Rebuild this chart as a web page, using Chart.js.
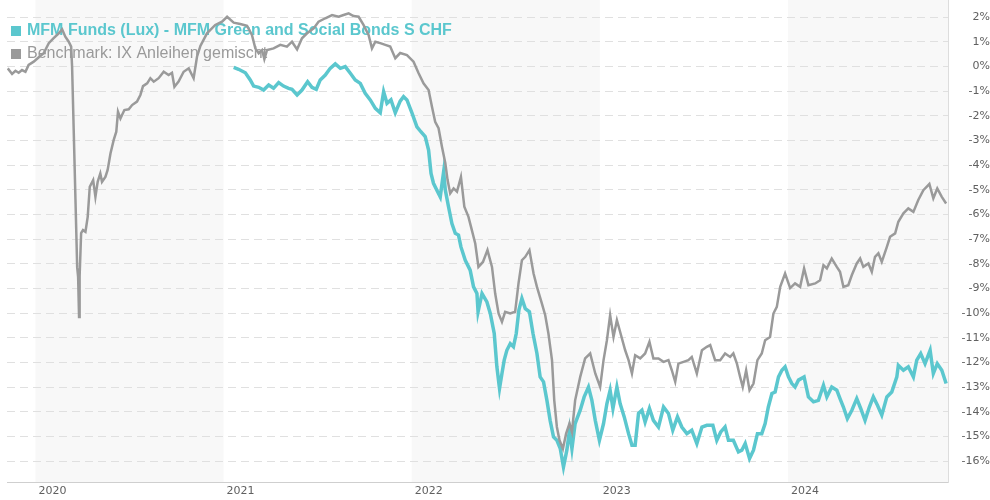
<!DOCTYPE html>
<html>
<head>
<meta charset="utf-8">
<title>MFM Green and Social Bonds S CHF</title>
<script src="https://cdn.jsdelivr.net/npm/chart.js@4/dist/chart.umd.min.js"></script>
<style>
    html, body { margin: 0; padding: 0; background: #fff; }
    #wrap { width: 990px; height: 500px; position: relative; }
</style>
</head>
<body>
<div id="wrap"><canvas id="perfChart"></canvas></div>
<script>
// Series names
const FUND_NAME = 'MFM Funds (Lux) - MFM Green and Social Bonds S CHF';
const BENCH_NAME = 'Benchmark: IX Anleihen gemischt';

// Benchmark: time in decimal years, performance in %
const benchYears = [
    2019.853, 2019.876, 2019.894, 2019.911, 2019.929, 2019.947, 2019.964, 2019.991, 2020.018, 2020.044,
    2020.071, 2020.097, 2020.124, 2020.142, 2020.159, 2020.177, 2020.190, 2020.195, 2020.204, 2020.213,
    2020.222, 2020.227, 2020.232, 2020.235, 2020.243, 2020.253, 2020.266, 2020.278, 2020.289, 2020.307,
    2020.319, 2020.331, 2020.345, 2020.354, 2020.372, 2020.384, 2020.399, 2020.416, 2020.430, 2020.439,
    2020.452, 2020.473, 2020.496, 2020.514, 2020.540, 2020.558, 2020.572, 2020.594, 2020.611, 2020.629,
    2020.655, 2020.682, 2020.708, 2020.726, 2020.739, 2020.761, 2020.788, 2020.815, 2020.841, 2020.859,
    2020.877, 2020.912, 2020.956, 2020.992, 2021.019, 2021.054, 2021.089, 2021.125, 2021.151, 2021.169,
    2021.187, 2021.205, 2021.217, 2021.231, 2021.266, 2021.302, 2021.337, 2021.364, 2021.391, 2021.417,
    2021.444, 2021.479, 2021.505, 2021.541, 2021.577, 2021.612, 2021.638, 2021.665, 2021.691, 2021.718,
    2021.744, 2021.771, 2021.789, 2021.807, 2021.833, 2021.860, 2021.886, 2021.913, 2021.939, 2021.975,
    2022.010, 2022.037, 2022.063, 2022.090, 2022.108, 2022.125, 2022.143, 2022.161, 2022.179, 2022.191,
    2022.205, 2022.223, 2022.241, 2022.262, 2022.280, 2022.302, 2022.320, 2022.338, 2022.355, 2022.379,
    2022.403, 2022.427, 2022.444, 2022.462, 2022.480, 2022.497, 2022.524, 2022.550, 2022.568, 2022.586,
    2022.604, 2022.626, 2022.648, 2022.666, 2022.692, 2022.710, 2022.727, 2022.746, 2022.758, 2022.772,
    2022.786, 2022.804, 2022.821, 2022.839, 2022.852, 2022.869, 2022.896, 2022.922, 2022.949, 2022.976,
    2023.002, 2023.020, 2023.038, 2023.055, 2023.073, 2023.091, 2023.108, 2023.135, 2023.153, 2023.171,
    2023.188, 2023.215, 2023.241, 2023.264, 2023.285, 2023.312, 2023.339, 2023.365, 2023.383, 2023.401,
    2023.418, 2023.445, 2023.471, 2023.489, 2023.516, 2023.543, 2023.569, 2023.587, 2023.613, 2023.640,
    2023.666, 2023.693, 2023.710, 2023.729, 2023.746, 2023.760, 2023.778, 2023.796, 2023.817, 2023.838,
    2023.861, 2023.879, 2023.905, 2023.923, 2023.941, 2023.959, 2023.985, 2024.012, 2024.038, 2024.065,
    2024.086, 2024.109, 2024.145, 2024.171, 2024.189, 2024.207, 2024.233, 2024.260, 2024.277, 2024.295,
    2024.321, 2024.340, 2024.366, 2024.384, 2024.401, 2024.428, 2024.446, 2024.463, 2024.481, 2024.499,
    2024.526, 2024.543, 2024.570, 2024.587, 2024.614, 2024.640, 2024.667, 2024.693, 2024.720, 2024.752,
    2024.773, 2024.794, 2024.818, 2024.841
];
const benchValues = [
    -0.07, -0.30, -0.17, -0.25, -0.14, -0.21, 0.07, 0.20, 0.38, 0.54,
    0.95, 1.15, 1.35, 1.51, 1.21, 1.01, 0.81, 0.00, -2.69, -5.41,
    -8.13, -8.52, -10.15, -8.52, -6.75, -6.63, -6.70, -6.09, -4.87, -4.60,
    -5.28, -4.67, -4.33, -4.67, -4.47, -4.19, -3.52, -2.98, -2.64, -1.83,
    -2.10, -1.76, -1.73, -1.56, -1.42, -1.15, -0.79, -0.68, -0.47, -0.61,
    -0.47, -0.21, -0.34, -0.25, -0.82, -0.61, -0.21, -0.07, -0.47, 0.40,
    0.84, 1.35, 1.69, 1.82, 2.02, 1.78, 1.73, 1.65, 1.28, 0.74,
    0.54, 0.67, 0.30, 0.67, 0.74, 0.88, 0.81, 1.01, 0.70, 1.15,
    1.35, 1.55, 1.82, 1.96, 2.09, 2.02, 2.09, 2.16, 2.05, 2.02,
    1.69, 1.28, 0.74, 1.01, 0.95, 0.88, 0.81, 0.34, 0.55, 0.47,
    0.20, -0.27, -0.68, -0.95, -1.63, -2.24, -2.50, -3.25, -3.92, -4.60,
    -5.14, -4.94, -5.07, -4.47, -5.68, -6.09, -6.63, -7.17, -8.12, -7.92,
    -7.44, -8.12, -9.20, -10.01, -10.35, -9.94, -10.01, -9.94, -8.79, -7.85,
    -7.71, -7.44, -8.39, -8.93, -9.60, -10.08, -10.82, -11.90, -13.53, -14.61,
    -15.15, -15.49, -14.88, -14.47, -14.81, -13.53, -12.58, -11.83, -11.63, -12.44,
    -12.99, -11.90, -11.09, -10.08, -10.96, -10.28, -10.75, -11.50, -11.90, -12.44,
    -11.70, -11.83, -11.63, -11.16, -11.83, -11.83, -11.97, -11.90, -12.31, -12.78,
    -12.04, -11.97, -11.90, -11.77, -12.44, -11.50, -11.36, -11.29, -11.90, -11.90,
    -11.63, -11.77, -11.63, -12.04, -12.58, -12.99, -12.31, -13.12, -12.85, -11.90,
    -11.63, -11.09, -10.96, -10.01, -9.74, -8.93, -8.39, -8.98, -8.79, -8.93,
    -8.18, -8.86, -8.79, -8.66, -8.05, -8.18, -7.78, -8.12, -8.32, -8.93,
    -8.86, -8.45, -7.98, -7.78, -8.12, -7.98, -8.32, -7.71, -7.57, -7.92,
    -7.31, -6.90, -6.76, -6.29, -5.95, -5.75, -5.89, -5.41, -5.01, -4.76,
    -5.34, -4.94, -5.28, -5.55
];

// Fund: time in decimal years, performance in %
const fundYears = [
    2021.054, 2021.080, 2021.116, 2021.142, 2021.160, 2021.187, 2021.213, 2021.240, 2021.266, 2021.293,
    2021.319, 2021.346, 2021.364, 2021.391, 2021.417, 2021.447, 2021.470, 2021.493, 2021.514, 2021.541,
    2021.567, 2021.594, 2021.621, 2021.647, 2021.674, 2021.700, 2021.727, 2021.753, 2021.780, 2021.807,
    2021.833, 2021.851, 2021.869, 2021.890, 2021.913, 2021.939, 2021.957, 2021.975, 2022.002, 2022.028,
    2022.049, 2022.072, 2022.090, 2022.103, 2022.116, 2022.138, 2022.152, 2022.170, 2022.179, 2022.196,
    2022.214, 2022.232, 2022.249, 2022.262, 2022.285, 2022.311, 2022.329, 2022.347, 2022.353, 2022.374,
    2022.400, 2022.418, 2022.439, 2022.453, 2022.467, 2022.480, 2022.492, 2022.506, 2022.524, 2022.541,
    2022.556, 2022.570, 2022.586, 2022.604, 2022.626, 2022.645, 2022.666, 2022.683, 2022.701, 2022.719,
    2022.736, 2022.754, 2022.772, 2022.790, 2022.807, 2022.825, 2022.839, 2022.852, 2022.869, 2022.896,
    2022.917, 2022.940, 2022.958, 2022.976, 2022.998, 2023.020, 2023.038, 2023.055, 2023.070, 2023.091,
    2023.108, 2023.130, 2023.153, 2023.171, 2023.188, 2023.206, 2023.224, 2023.241, 2023.264, 2023.285,
    2023.312, 2023.339, 2023.365, 2023.388, 2023.413, 2023.436, 2023.463, 2023.489, 2023.516, 2023.543,
    2023.569, 2023.601, 2023.622, 2023.643, 2023.666, 2023.684, 2023.710, 2023.737, 2023.755, 2023.773,
    2023.796, 2023.817, 2023.838, 2023.861, 2023.879, 2023.896, 2023.915, 2023.932, 2023.950, 2023.968,
    2023.985, 2024.003, 2024.021, 2024.038, 2024.056, 2024.086, 2024.109, 2024.136, 2024.162, 2024.189,
    2024.207, 2024.233, 2024.260, 2024.277, 2024.295, 2024.316, 2024.340, 2024.366, 2024.387, 2024.410,
    2024.433, 2024.454, 2024.476, 2024.499, 2024.526, 2024.552, 2024.579, 2024.587, 2024.614, 2024.640,
    2024.667, 2024.685, 2024.706, 2024.729, 2024.756, 2024.773, 2024.794, 2024.818, 2024.841
];
const fundValues = [
    -0.03, -0.11, -0.25, -0.54, -0.79, -0.84, -0.95, -0.75, -0.88, -0.65,
    -0.79, -0.88, -0.92, -1.15, -0.95, -0.61, -0.84, -0.92, -0.54, -0.34,
    -0.07, 0.11, -0.07, 0.00, -0.27, -0.54, -0.68, -1.08, -1.35, -1.69,
    -1.87, -1.02, -1.49, -1.35, -1.87, -1.40, -1.22, -1.35, -1.89, -2.44,
    -2.64, -2.84, -3.38, -4.33, -4.73, -5.07, -5.28, -4.26, -5.01, -5.68,
    -6.36, -6.76, -6.83, -7.31, -7.85, -8.25, -8.93, -9.20, -9.94, -9.20,
    -9.54, -10.01, -10.82, -12.17, -13.05, -12.44, -11.90, -11.50, -11.23, -11.36,
    -10.82, -9.87, -9.40, -9.81, -9.94, -10.82, -11.63, -12.58, -12.78, -13.53,
    -14.34, -15.01, -15.15, -15.49, -16.23, -15.55, -14.74, -15.49, -14.47, -13.93,
    -13.39, -12.99, -13.53, -14.34, -15.15, -14.47, -13.66, -13.12, -13.86, -12.99,
    -13.66, -14.20, -14.88, -15.35, -15.35, -14.06, -13.93, -14.41, -13.86, -14.34,
    -14.61, -13.80, -14.06, -14.74, -14.20, -14.61, -14.88, -14.74, -15.28, -14.61,
    -14.54, -14.54, -15.15, -14.81, -14.61, -15.15, -15.15, -15.62, -15.55, -15.28,
    -15.89, -15.55, -14.88, -14.88, -14.47, -13.80, -13.25, -13.19, -12.58, -12.31,
    -12.17, -12.58, -12.85, -12.99, -12.71, -12.58, -13.39, -13.59, -13.53, -12.92,
    -13.39, -12.99, -13.12, -13.46, -13.80, -14.27, -13.93, -13.46, -13.86, -14.34,
    -13.80, -13.39, -13.73, -14.13, -13.39, -13.19, -12.58, -12.11, -12.31, -12.17,
    -12.58, -11.90, -11.63, -12.04, -11.50, -12.44, -12.04, -12.31, -12.85
];

// Axis range and shaded years
const X_MIN = 2019.849, X_MAX = 2024.851;
const Y_MIN = -16.84, Y_MAX = 2.70;
const SHADED_YEARS = [2020, 2022, 2024];

const TEAL = '#5bc7ce';
const GREY = '#9a9a9a';

function toPoints(xs, ys) {
    return xs.map((x, i) => ({ x: x, y: ys[i] }));
}

// alternating year bands behind everything
const yearBands = {
    id: 'yearBands',
    beforeDraw(chart) {
        const { ctx, chartArea, scales } = chart;
        ctx.save();
        ctx.fillStyle = '#f8f8f8';
        SHADED_YEARS.forEach(yr => {
            const x0 = Math.max(scales.x.getPixelForValue(yr), chartArea.left);
            const x1 = Math.min(scales.x.getPixelForValue(yr + 1), chartArea.right);
            ctx.fillRect(x0, chartArea.top, x1 - x0, chartArea.bottom - chartArea.top);
        });
        ctx.restore();
    }
};

// legend sits inside the plot, under the lines
const innerLegend = {
    id: 'innerLegend',
    beforeDatasetsDraw(chart) {
        const ctx = chart.ctx;
        ctx.save();
        ctx.textBaseline = 'alphabetic';
        ctx.fillStyle = TEAL;
        ctx.fillRect(11, 26, 10, 10);
        ctx.font = 'bold 16px "Liberation Sans", Arial, sans-serif';
        ctx.fillText(FUND_NAME, 27, 35);
        ctx.fillStyle = GREY;
        ctx.fillRect(11, 49, 10, 10);
        ctx.font = '16px "Liberation Sans", Arial, sans-serif';
        ctx.fillText(BENCH_NAME, 27, 58);
        ctx.restore();
    }
};

function init() {
    const ctx = document.getElementById('perfChart').getContext('2d');
    new Chart(ctx, {
        type: 'line',
        data: {
            datasets: [
                {
                    label: BENCH_NAME,
                    data: toPoints(benchYears, benchValues),
                    borderColor: GREY,
                    borderWidth: 2.5,
                    pointRadius: 0,
                    tension: 0,
                    order: 0
                },
                {
                    label: FUND_NAME,
                    data: toPoints(fundYears, fundValues),
                    borderColor: TEAL,
                    borderWidth: 3.5,
                    pointRadius: 0,
                    tension: 0,
                    order: 1
                }
            ]
        },
        options: {
            responsive: true,
            maintainAspectRatio: false,
            animation: false,
            layout: { padding: { left: 7, top: 0, right: 0, bottom: 0 } },
            plugins: {
                legend: { display: false },
                tooltip: { enabled: false }
            },
            scales: {
                x: {
                    type: 'linear',
                    min: X_MIN,
                    max: X_MAX,
                    afterFit: s => { s.height = 18; s.paddingLeft = 0; s.paddingRight = 0; },
                    grid: { drawOnChartArea: false, drawTicks: false },
                    border: { display: true, color: '#cfcfcf', width: 1 },
                    ticks: {
                        stepSize: 1,
                        includeBounds: false,
                        autoSkip: false,
                        maxRotation: 0,
                        align: 'start',
                        labelOffset: 3,
                        padding: 3,
                        color: '#606060',
                        font: { family: '"DejaVu Sans", Verdana, sans-serif', size: 11 },
                        callback: v => String(v)
                    }
                },
                y: {
                    position: 'right',
                    min: Y_MIN,
                    max: Y_MAX,
                    afterFit: s => { s.width = 42; s.paddingTop = 0; s.paddingBottom = 0; },
                    grid: { color: '#e0e0e0', lineWidth: 1, drawTicks: false },
                    border: { display: true, color: '#dddddd', width: 1, dash: [8, 5] },
                    ticks: {
                        stepSize: 1,
                        includeBounds: false,
                        crossAlign: 'far',
                        padding: 12,
                        color: '#606060',
                        font: { family: '"DejaVu Sans", Verdana, sans-serif', size: 11 },
                        callback: v => v + '%'
                    }
                }
            }
        },
        plugins: [yearBands, innerLegend]
    });
}

document.addEventListener('DOMContentLoaded', init);
</script>
</body>
</html>
